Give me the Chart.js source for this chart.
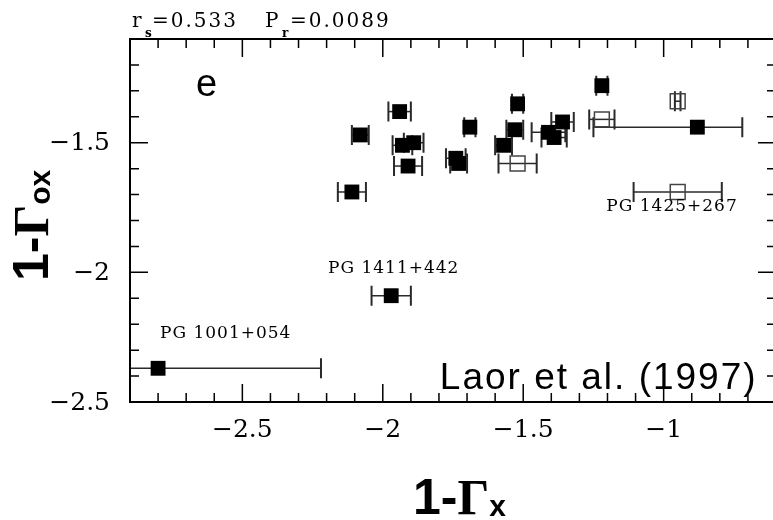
<!DOCTYPE html>
<html>
<head>
<meta charset="utf-8">
<script src="https://cdn.jsdelivr.net/npm/chart.js@4.4.1/dist/chart.umd.min.js"></script>
<style>
  html, body { margin: 0; padding: 0; background: #fff; overflow: hidden; }
  #wrap { width: 776px; height: 520px; }
</style>
</head>
<body>
<div id="wrap"><canvas id="chart" width="776" height="520"></canvas></div>
<script>
// filled squares: 1-Gamma_x, 1-Gamma_ox, x error below / above
const filledX   = [-2.08, -1.94, -1.93, -1.89, -1.91, -2.11, -1.69, -1.74, -1.73, -1.52, -1.53, -1.57, -1.41, -1.39, -1.36, -1.22, -0.88, -1.97, -2.80];
const filledY   = [-1.47, -1.38, -1.51, -1.50, -1.59, -1.69, -1.44, -1.56, -1.58, -1.35, -1.45, -1.51, -1.46, -1.48, -1.42, -1.28, -1.44, -2.09, -2.37];
const filledErrLo = [0.03, 0.04, 0.035, 0.035, 0.05, 0.05, 0.02, 0.035, 0.03, 0.02, 0.03, 0.03, 0.06, 0.045, 0.04, 0.02, 0.37, 0.07, 0.58];
const filledErrHi = [0.03, 0.04, 0.035, 0.035, 0.05, 0.05, 0.02, 0.035, 0.03, 0.02, 0.03, 0.03, 0.06, 0.045, 0.04, 0.02, 0.16, 0.07, 0.58];

// open squares
const openX   = [-1.22, -0.95, -1.52, -0.95];
const openY   = [-1.41, -1.34, -1.58, -1.69];
const openErr = [0.045, 0.01, 0.068, 0.157];

// axis ranges and labelled ticks
const xRange = [-2.9, -0.6];
const yRange = [-2.5, -1.1];
const xTicks = [-2.5, -2, -1.5, -1];
const yTicks = [-2.5, -2, -1.5];

// object names, placed in data units
const notes = [
  { text: 'PG 1001+054', x: -2.793, y: -2.253 },
  { text: 'PG 1411+442', x: -2.195, y: -2.002 },
  { text: 'PG 1425+267', x: -1.204, y: -1.765 }
];

const fmt = v => String(v).replace('-', '\u2212');

function pts(xs, ys) {
  return xs.map((v, i) => ({ x: v, y: ys[i] }));
}

function minorValues(range) {
  const out = [];
  const lo = Math.round(range[0] * 10), hi = Math.round(range[1] * 10);
  for (let i = lo; i <= hi; i++) out.push(i / 10);
  return out;
}

function drawErrors(ctx, xs, ys, lo, hi, sx, sy) {
  xs.forEach((v, i) => {
    const py = sy.getPixelForValue(ys[i]);
    const x1 = sx.getPixelForValue(v - lo[i]);
    const x2 = sx.getPixelForValue(v + hi[i]);
    ctx.lineWidth = 1.5;
    ctx.beginPath();
    ctx.moveTo(x1, py); ctx.lineTo(x2, py);
    ctx.stroke();
    ctx.lineWidth = 2;
    ctx.beginPath();
    ctx.moveTo(x1, py - 10); ctx.lineTo(x1, py + 10);
    ctx.moveTo(x2, py - 10); ctx.lineTo(x2, py + 10);
    ctx.stroke();
  });
}

// text with a lowered subscript part
function drawParts(ctx, parts, x, y) {
  let cx = x;
  parts.forEach(p => {
    ctx.font = p.font;
    ctx.fillText(p.text, cx, y + (p.dy || 0));
    cx += ctx.measureText(p.text).width;
  });
}

const decor = {
  id: 'decor',
  beforeDatasetsDraw(chart) {
    const { ctx, chartArea: a, scales: { x, y } } = chart;
    ctx.save();
    ctx.beginPath();
    ctx.rect(a.left, a.top, a.right - a.left, a.bottom - a.top);
    ctx.clip();
    ctx.strokeStyle = '#2a2a2a';
    drawErrors(ctx, filledX, filledY, filledErrLo, filledErrHi, x, y);
    drawErrors(ctx, openX, openY, openErr, openErr, x, y);
    ctx.restore();
  },
  afterDraw(chart) {
    const { ctx, chartArea: a, scales: { x, y } } = chart;
    ctx.save();
    ctx.strokeStyle = '#000';
    ctx.lineWidth = 2;
    ctx.strokeRect(a.left, a.top, a.right - a.left, a.bottom - a.top);

    // inward ticks on all four sides
    ctx.lineWidth = 1.5;
    ctx.beginPath();
    minorValues(xRange).forEach(v => {
      const px = x.getPixelForValue(v);
      const len = Math.abs(v * 2 - Math.round(v * 2)) < 1e-6 ? 18 : 9;
      ctx.moveTo(px, a.bottom); ctx.lineTo(px, a.bottom - len);
      ctx.moveTo(px, a.top); ctx.lineTo(px, a.top + len);
    });
    minorValues(yRange).forEach(v => {
      const py = y.getPixelForValue(v);
      const len = Math.abs(v * 2 - Math.round(v * 2)) < 1e-6 ? 18 : 9;
      ctx.moveTo(a.left, py); ctx.lineTo(a.left + len, py);
      ctx.moveTo(a.right, py); ctx.lineTo(a.right - len, py);
    });
    ctx.stroke();

    // tick labels
    ctx.fillStyle = '#000';
    ctx.font = '25px "DejaVu Serif"';
    ctx.textBaseline = 'middle';
    ctx.textAlign = 'center';
    xTicks.forEach(v => ctx.fillText(fmt(v), x.getPixelForValue(v), a.bottom + 28));
    ctx.textAlign = 'right';
    yTicks.forEach(v => ctx.fillText(fmt(v), a.left - 20, y.getPixelForValue(v) + 1));

    ctx.textAlign = 'left';
    ctx.textBaseline = 'alphabetic';

    // correlation numbers above the frame
    ctx.letterSpacing = '2px';
    ctx.font = '20px "DejaVu Serif"';
    ctx.fillText('r', 132, 27);
    ctx.fillText('=0.533', 152, 27);
    ctx.fillText('P', 265, 27);
    ctx.fillText('=0.0089', 290, 27);
    ctx.letterSpacing = '0px';
    ctx.font = 'bold 12px "DejaVu Serif"';
    ctx.fillText('s', 145, 37);
    ctx.fillText('r', 282, 37);

    // object names
    ctx.letterSpacing = '1px';
    ctx.font = '17px "DejaVu Serif"';
    notes.forEach(n => ctx.fillText(n.text, x.getPixelForValue(n.x), y.getPixelForValue(n.y)));
    ctx.letterSpacing = '0px';

    // panel letter and reference
    ctx.font = '38px "Liberation Sans"';
    ctx.fillText('e', x.getPixelForValue(-2.665), y.getPixelForValue(-1.319));
    ctx.letterSpacing = '2px';
    ctx.font = '37px "Liberation Sans"';
    ctx.fillText('Laor et al. (1997)', x.getPixelForValue(-1.797), y.getPixelForValue(-2.45));
    ctx.letterSpacing = '0px';

    // axis titles
    const bold = 'bold 50px "Liberation Sans"';
    const gam = 'bold 50px "Liberation Serif"';
    const sub = 'bold 30px "Liberation Sans"';
    drawParts(ctx, [
      { text: '1-', font: bold },
      { text: '\u0393', font: gam },
      { text: 'x', font: sub, dy: 2 }
    ], 413, 514);

    ctx.translate(48, 281);
    ctx.rotate(-Math.PI / 2);
    drawParts(ctx, [
      { text: '1-', font: bold },
      { text: '\u0393', font: gam },
      { text: 'ox', font: sub, dy: 2 }
    ], 0, 0);
    ctx.restore();
  }
};

new Chart(document.getElementById('chart'), {
  type: 'scatter',
  data: {
    datasets: [
      {
        data: pts(filledX, filledY),
        pointStyle: 'rect',
        pointRadius: 10.5,
        backgroundColor: '#000',
        borderColor: '#000',
        borderWidth: 0
      },
      {
        data: pts(openX, openY),
        pointStyle: 'rect',
        pointRadius: 10.5,
        backgroundColor: 'rgba(0,0,0,0)',
        borderColor: '#444',
        borderWidth: 1.5
      }
    ]
  },
  options: {
    responsive: false,
    animation: false,
    devicePixelRatio: 1,
    layout: { autoPadding: false, padding: { top: 39, right: 0, left: 0, bottom: 0 } },
    plugins: { legend: { display: false }, tooltip: { enabled: false } },
    scales: {
      x: {
        type: 'linear',
        min: xRange[0],
        max: xRange[1],
        afterFit: s => { s.height = 118; },
        grid: { display: false, drawTicks: false },
        border: { display: false },
        ticks: { display: false }
      },
      y: {
        type: 'linear',
        min: yRange[0],
        max: yRange[1],
        afterFit: s => { s.width = 130; },
        grid: { display: false, drawTicks: false },
        border: { display: false },
        ticks: { display: false }
      }
    }
  },
  plugins: [decor]
});
</script>
</body>
</html>
